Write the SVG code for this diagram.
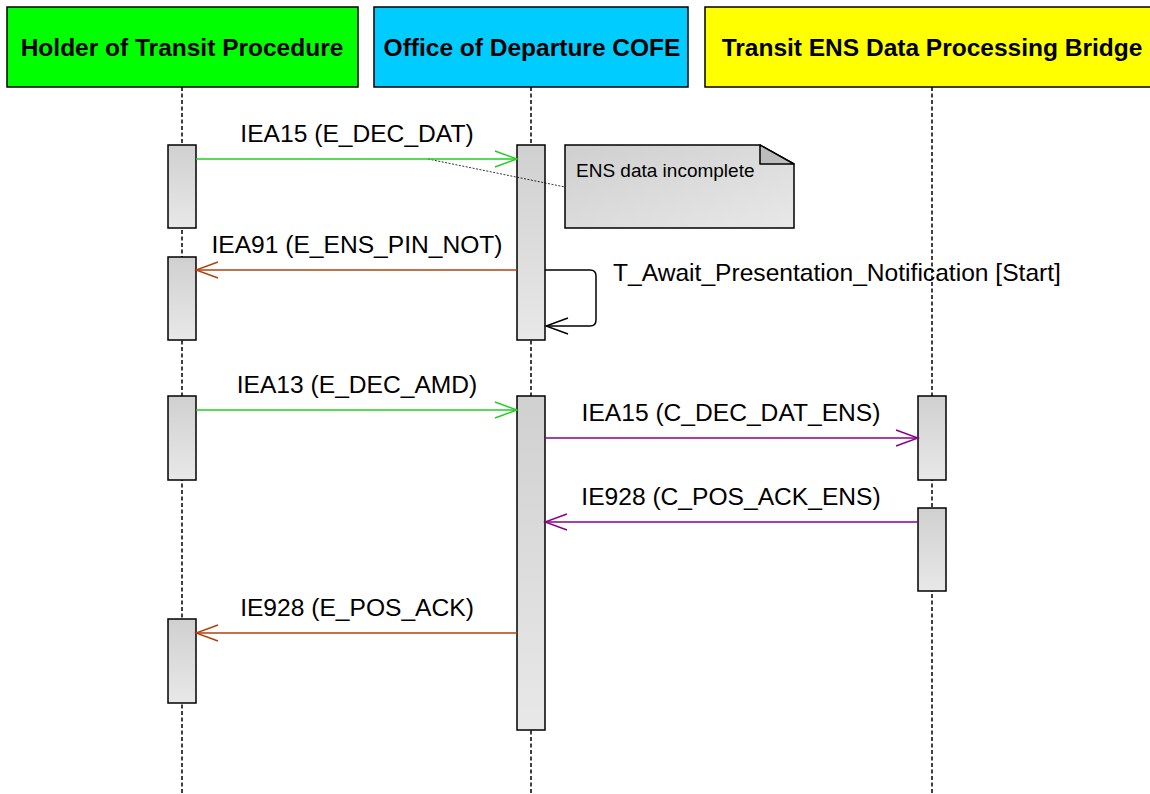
<svg xmlns="http://www.w3.org/2000/svg" width="1150" height="794" viewBox="0 0 1150 794">
<style>
.hdr{stroke:#000;stroke-width:1.5}
.htxt{font-family:"Liberation Sans",Arial,sans-serif;font-weight:bold;font-size:24.5px;text-anchor:middle;fill:#000}
.life{stroke:#000;stroke-width:1.5;stroke-dasharray:4 2.5;fill:none}
.act{fill:url(#actg);stroke:#000;stroke-width:1.5}
.msg{font-family:"Liberation Sans",Arial,sans-serif;font-size:24.6px;fill:#000}
.mid{text-anchor:middle}
.g{stroke:#22cc22;stroke-width:1.5;fill:none;marker-end:url(#ag)}
.b{stroke:#b0400c;stroke-width:1.5;fill:none;marker-end:url(#ab)}
.p{stroke:#880088;stroke-width:1.5;fill:none;marker-end:url(#ap)}
.k{stroke:#000;stroke-width:1.5;fill:none;marker-end:url(#ak)}
</style>
<defs>
<linearGradient id="actg" x1="0" y1="0" x2="0" y2="1">
<stop offset="0" stop-color="#d0d0d0"/>
<stop offset="1" stop-color="#e8e8e8"/>
</linearGradient>
<linearGradient id="noteg" x1="0" y1="0" x2="1" y2="1">
<stop offset="0" stop-color="#cfcfcf"/>
<stop offset="1" stop-color="#e8e8e8"/>
</linearGradient>
<marker id="ag" markerUnits="userSpaceOnUse" viewBox="-24 -10 26 20" refX="0" refY="0" markerWidth="26" markerHeight="20" orient="auto"><path d="M-22 -8 L0 0 L-22 8" fill="none" stroke="#22cc22" stroke-width="1.5"/></marker>
<marker id="ab" markerUnits="userSpaceOnUse" viewBox="-24 -10 26 20" refX="0" refY="0" markerWidth="26" markerHeight="20" orient="auto"><path d="M-22 -8 L0 0 L-22 8" fill="none" stroke="#b0400c" stroke-width="1.5"/></marker>
<marker id="ap" markerUnits="userSpaceOnUse" viewBox="-24 -10 26 20" refX="0" refY="0" markerWidth="26" markerHeight="20" orient="auto"><path d="M-22 -8 L0 0 L-22 8" fill="none" stroke="#880088" stroke-width="1.5"/></marker>
<marker id="ak" markerUnits="userSpaceOnUse" viewBox="-24 -10 26 20" refX="0" refY="0" markerWidth="26" markerHeight="20" orient="auto"><path d="M-22 -8 L0 0 L-22 8" fill="none" stroke="#000" stroke-width="1.5"/></marker>
</defs>
<rect width="1150" height="794" fill="#fff"/>

<g id="holder">
<rect class="hdr" x="7" y="7" width="351" height="80" fill="#00ff00"/>
<text class="htxt" x="182" y="56">Holder of Transit Procedure</text>
<line class="life" x1="182" y1="87" x2="182" y2="794"/>
<rect class="act" x="168" y="145" width="28" height="83"/>
<rect class="act" x="168" y="257" width="28" height="83"/>
<rect class="act" x="168" y="396" width="28" height="84"/>
<rect class="act" x="168" y="619" width="28" height="84"/>
</g>

<g id="office">
<rect class="hdr" x="374" y="7" width="314" height="80" fill="#00ccff"/>
<text class="htxt" x="532" y="56">Office of Departure COFE</text>
<line class="life" x1="531" y1="87" x2="531" y2="794"/>
<rect class="act" x="517" y="145" width="28" height="195"/>
<rect class="act" x="517" y="396" width="28" height="334"/>
</g>

<g id="bridge">
<rect class="hdr" x="705" y="7" width="460" height="80" fill="#ffff00"/>
<text class="htxt" x="932" y="56">Transit ENS Data Processing Bridge</text>
<line class="life" x1="932" y1="87" x2="932" y2="794"/>
<rect class="act" x="918" y="396" width="28" height="84"/>
<rect class="act" x="918" y="508" width="28" height="83"/>
</g>

<g id="note">
<path d="M565 145 H760 L794 164 V228 H565 Z" fill="url(#noteg)" stroke="#000" stroke-width="1.5"/>
<path d="M760 145 V164 H794 Z" fill="#bcbcbc" stroke="#000" stroke-width="1.5" stroke-linejoin="round"/>
<text x="576" y="177" font-family="Liberation Sans, Arial, sans-serif" font-size="19" fill="#000">ENS data incomplete</text>
</g>

<g id="connectors">
<line x1="428" y1="159" x2="565" y2="187" stroke="#000" stroke-width="0.8" stroke-dasharray="2 1.5"/>
<line class="g" x1="196" y1="159" x2="517" y2="159"/>
<text class="msg mid" x="357" y="142">IEA15 (E_DEC_DAT)</text>
<line class="b" x1="517" y1="270" x2="196" y2="270"/>
<text class="msg mid" x="357" y="253">IEA91 (E_ENS_PIN_NOT)</text>
<path class="k" d="M545 270 H590 Q596 270 596 276 V320 Q596 326 590 326 H546"/>
<text class="msg" x="613" y="281">T_Await_Presentation_Notification [Start]</text>
<line class="g" x1="196" y1="410" x2="517" y2="410"/>
<text class="msg mid" x="357" y="393">IEA13 (E_DEC_AMD)</text>
<line class="p" x1="545" y1="438" x2="918" y2="438"/>
<text class="msg mid" x="731" y="421">IEA15 (C_DEC_DAT_ENS)</text>
<line class="p" x1="918" y1="522" x2="545" y2="522"/>
<text class="msg mid" x="731" y="505">IE928 (C_POS_ACK_ENS)</text>
<line class="b" x1="517" y1="633" x2="196" y2="633"/>
<text class="msg mid" x="357" y="616">IE928 (E_POS_ACK)</text>
</g>
</svg>
